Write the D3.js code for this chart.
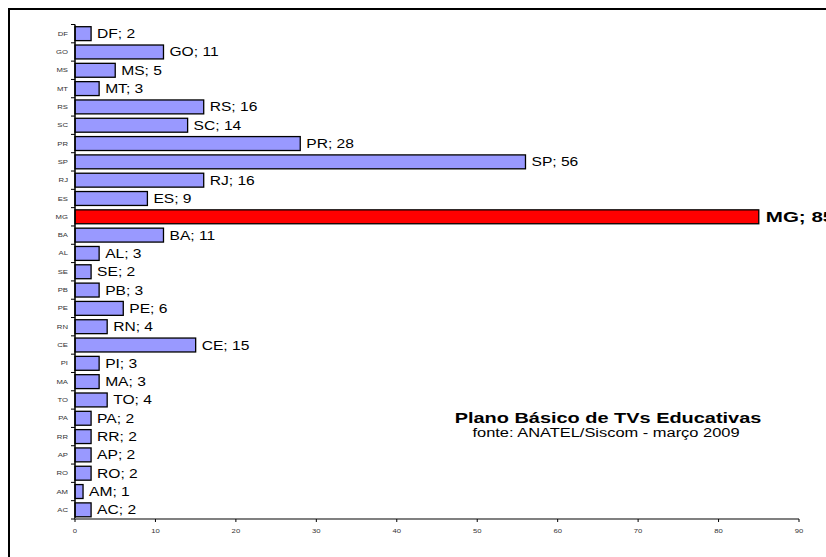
<!DOCTYPE html>
<html>
<head>
<meta charset="utf-8">
<script src="https://cdn.jsdelivr.net/npm/d3@7"></script>
<style>
  html, body { margin: 0; padding: 0; background: #fff; }
  svg { display: block; font-family: "Liberation Sans", Arial, sans-serif; }
</style>
</head>
<body>
<svg id="chart" width="826" height="557"></svg>
<script>
// States, listed top to bottom as drawn
const categories = ["DF","GO","MS","MT","RS","SC","PR","SP","RJ","ES","MG","BA","AL","SE","PB","PE","RN","CE","PI","MA","TO","PA","RR","AP","RO","AM","AC"];
// Number of educational TV channels per state
const values = [2,11,5,3,16,14,28,56,16,9,85,11,3,2,3,6,4,15,3,3,4,2,2,2,2,1,2];
const highlighted = ["MG"];
const xTickValues = [0,10,20,30,40,50,60,70,80,90];
const titleText = "Plano Básico de TVs Educativas";
const subtitleText = "fonte: ANATEL/Siscom - março 2009";

const svg = d3.select("#chart");
const STRETCH = 1.3; // text is rendered slightly wide

function stretchedText(parent, x, y, txt, opts) {
  return parent.append("text")
    .attr("transform", `translate(${x},${y}) scale(${opts.sx || STRETCH},1)`)
    .attr("text-anchor", opts.anchor || "start")
    .attr("dominant-baseline", opts.baseline || "auto")
    .attr("font-size", opts.size)
    .attr("font-weight", opts.weight || "normal")
    .attr("fill", opts.fill || "#000")
    .text(txt);
}

// Outer frame (runs past the right and bottom edges)
svg.append("rect")
  .attr("x", 9).attr("y", 9)
  .attr("width", 840).attr("height", 580)
  .attr("fill", "none").attr("stroke", "#000").attr("stroke-width", 2);

const x = d3.scaleLinear().domain([0, 90]).range([75, 799]);
const y = d3.scaleBand().domain(categories).range([24.5, 519])
  .paddingInner(0.24).paddingOuter(0.12);

const data = categories.map((c, i) => ({ cat: c, val: values[i], hi: highlighted.includes(c) }));

// Bars
svg.append("g").selectAll("rect").data(data).join("rect")
  .attr("x", x(0))
  .attr("y", d => y(d.cat))
  .attr("width", d => x(d.val) - x(0))
  .attr("height", y.bandwidth())
  .attr("fill", d => d.hi ? "#ff0000" : "#9999ff")
  .attr("stroke", "#000")
  .attr("stroke-width", 1.3);

// Value labels
const labels = svg.append("g");
data.forEach(d => {
  const cy = y(d.cat) + y.bandwidth() / 2;
  if (d.hi) {
    stretchedText(labels, x(d.val) + 7, cy, `${d.cat}; ${d.val}`,
      { size: 15, weight: "bold", baseline: "central", sx: 1.37 });
  } else {
    stretchedText(labels, x(d.val) + 6, cy, `${d.cat}; ${d.val}`,
      { size: 13, baseline: "central", sx: 1.2 });
  }
});

// Category axis (left)
const yAxisG = svg.append("g");
yAxisG.append("line")
  .attr("x1", x(0)).attr("x2", x(0))
  .attr("y1", 24.5).attr("y2", 519)
  .attr("stroke", "#000").attr("stroke-width", 1.5);
const step = y.step();
d3.range(categories.length + 1).forEach(i => {
  const ty = 24.5 + i * step;
  yAxisG.append("line")
    .attr("x1", x(0) - 4).attr("x2", x(0))
    .attr("y1", ty).attr("y2", ty)
    .attr("stroke", "#000").attr("stroke-width", 1);
});
categories.forEach(c => {
  stretchedText(yAxisG, 68, y(c) + y.bandwidth() / 2, c,
    { size: 5.5, anchor: "end", baseline: "central", fill: "#333", sx: 1.4 });
});

// Value axis (bottom)
const xAxisG = svg.append("g");
xAxisG.append("line")
  .attr("x1", x(0)).attr("x2", x(90))
  .attr("y1", 519).attr("y2", 519)
  .attr("stroke", "#808080").attr("stroke-width", 2);
xTickValues.forEach(v => {
  xAxisG.append("line")
    .attr("x1", x(v)).attr("x2", x(v))
    .attr("y1", 519).attr("y2", 522)
    .attr("stroke", "#000").attr("stroke-width", 1);
  stretchedText(xAxisG, x(v), 531, v,
    { size: 5.5, anchor: "middle", baseline: "central", fill: "#333", sx: 1.4 });
});

// Title block
stretchedText(svg, 608, 423, titleText, { size: 15, weight: "bold", anchor: "middle", sx: 1.33 });
stretchedText(svg, 606, 437, subtitleText, { size: 12, anchor: "middle", sx: 1.37 });
</script>
</body>
</html>
